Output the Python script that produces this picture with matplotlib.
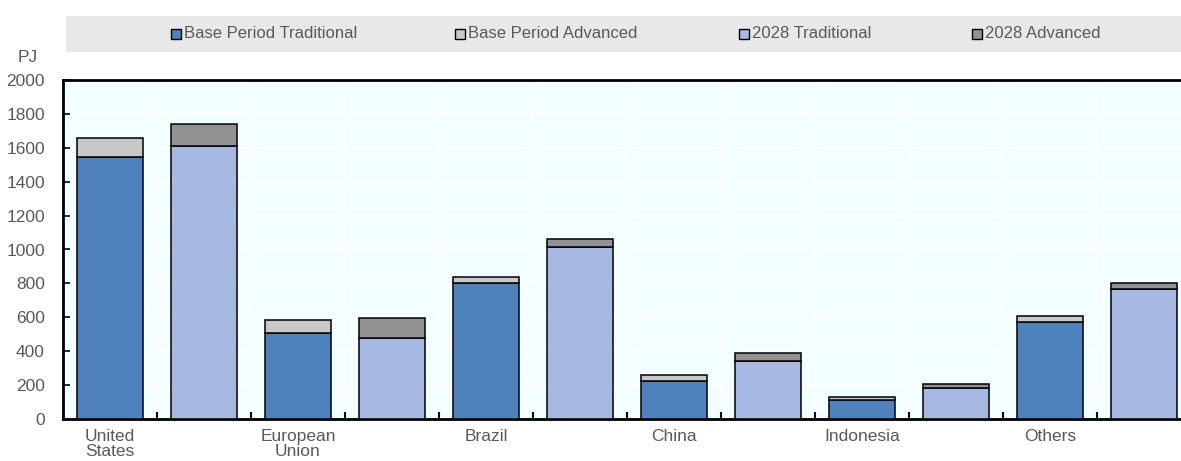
import numpy as np
import matplotlib.pyplot as plt
from matplotlib.patches import Rectangle

plt.rcParams['font.family'] = ['Liberation Sans Narrow', 'Liberation Sans', 'DejaVu Sans']

regions = ['United\nStates', 'European\nUnion', 'Brazil', 'China', 'Indonesia', 'Others']
base_trad = [1545, 505, 800, 222, 110, 575]
base_adv = [110, 80, 35, 38, 18, 32]
y2028_trad = [1610, 480, 1015, 345, 180, 765]
y2028_adv = [130, 115, 45, 43, 25, 35]

legend_labels = ['Base Period Traditional', 'Base Period Advanced', '2028 Traditional', '2028 Advanced']
colors = ['#4F81BD', '#C8C8C8', '#A7B8E2', '#929292']
txt = '#595959'

W, H = 1181, 461
fig = plt.figure(figsize=(W / 100, H / 100), dpi=100)
ax = fig.add_axes([63 / W, (H - 419) / H, (1191 - 63) / W, (419 - 80) / H])
ax.set_facecolor('#F2FEFF')

n = len(regions)
xb = np.arange(n) * 2
xf = xb + 1
w = 0.70
kw = dict(width=w, edgecolor='black', linewidth=1.1, zorder=3)
ax.bar(xb, base_trad, color=colors[0], **kw)
ax.bar(xb, base_adv, bottom=base_trad, color=colors[1], **kw)
ax.bar(xf, y2028_trad, color=colors[2], **kw)
ax.bar(xf, y2028_adv, bottom=y2028_trad, color=colors[3], **kw)

ax.set_xlim(-0.5, 2 * n - 0.5)
ax.set_ylim(0, 2000)
ax.set_yticks(np.arange(0, 2001, 200))
ax.set_xticks(xb)
ax.set_xticklabels(regions, linespacing=1.05)
ax.set_xticks(np.arange(0.5, 2 * n - 0.5, 1), minor=True)
ax.tick_params(axis='x', which='major', length=0, labelsize=12.5, labelcolor=txt, pad=7)
ax.tick_params(axis='x', which='minor', direction='in', length=5, width=1.5)
ax.tick_params(axis='y', direction='in', length=5, width=1.2, labelsize=12.5, labelcolor=txt, pad=13)
ax.grid(axis='y', color='white', linewidth=1.5, zorder=0)
ax.grid(axis='x', which='minor', color='white', linewidth=1.5, zorder=0)
ax.set_axisbelow(True)
for s in ['left', 'bottom', 'top']:
    ax.spines[s].set_linewidth(2)
ax.spines['right'].set_visible(False)

fig.text(28 / W, 1 - 57 / H, 'PJ', ha='center', va='center', fontsize=12.5, color=txt)

# legend band
fig.patches.append(Rectangle((66 / W, 1 - 52 / H), 1 - 66 / W, 36 / H,
                             transform=fig.transFigure, facecolor='#E8E8E8', edgecolor='none'))
mx = [171, 455, 739, 972]
for x, lab, c in zip(mx, legend_labels, colors):
    fig.patches.append(Rectangle((x / W, 1 - 39 / H), 10 / W, 10 / H, transform=fig.transFigure,
                                 facecolor=c, edgecolor='black', linewidth=1))
    fig.text((x + 13) / W, 1 - 34 / H, lab, ha='left', va='center', fontsize=12, color=txt)

fig.savefig('out.png', dpi=100)
